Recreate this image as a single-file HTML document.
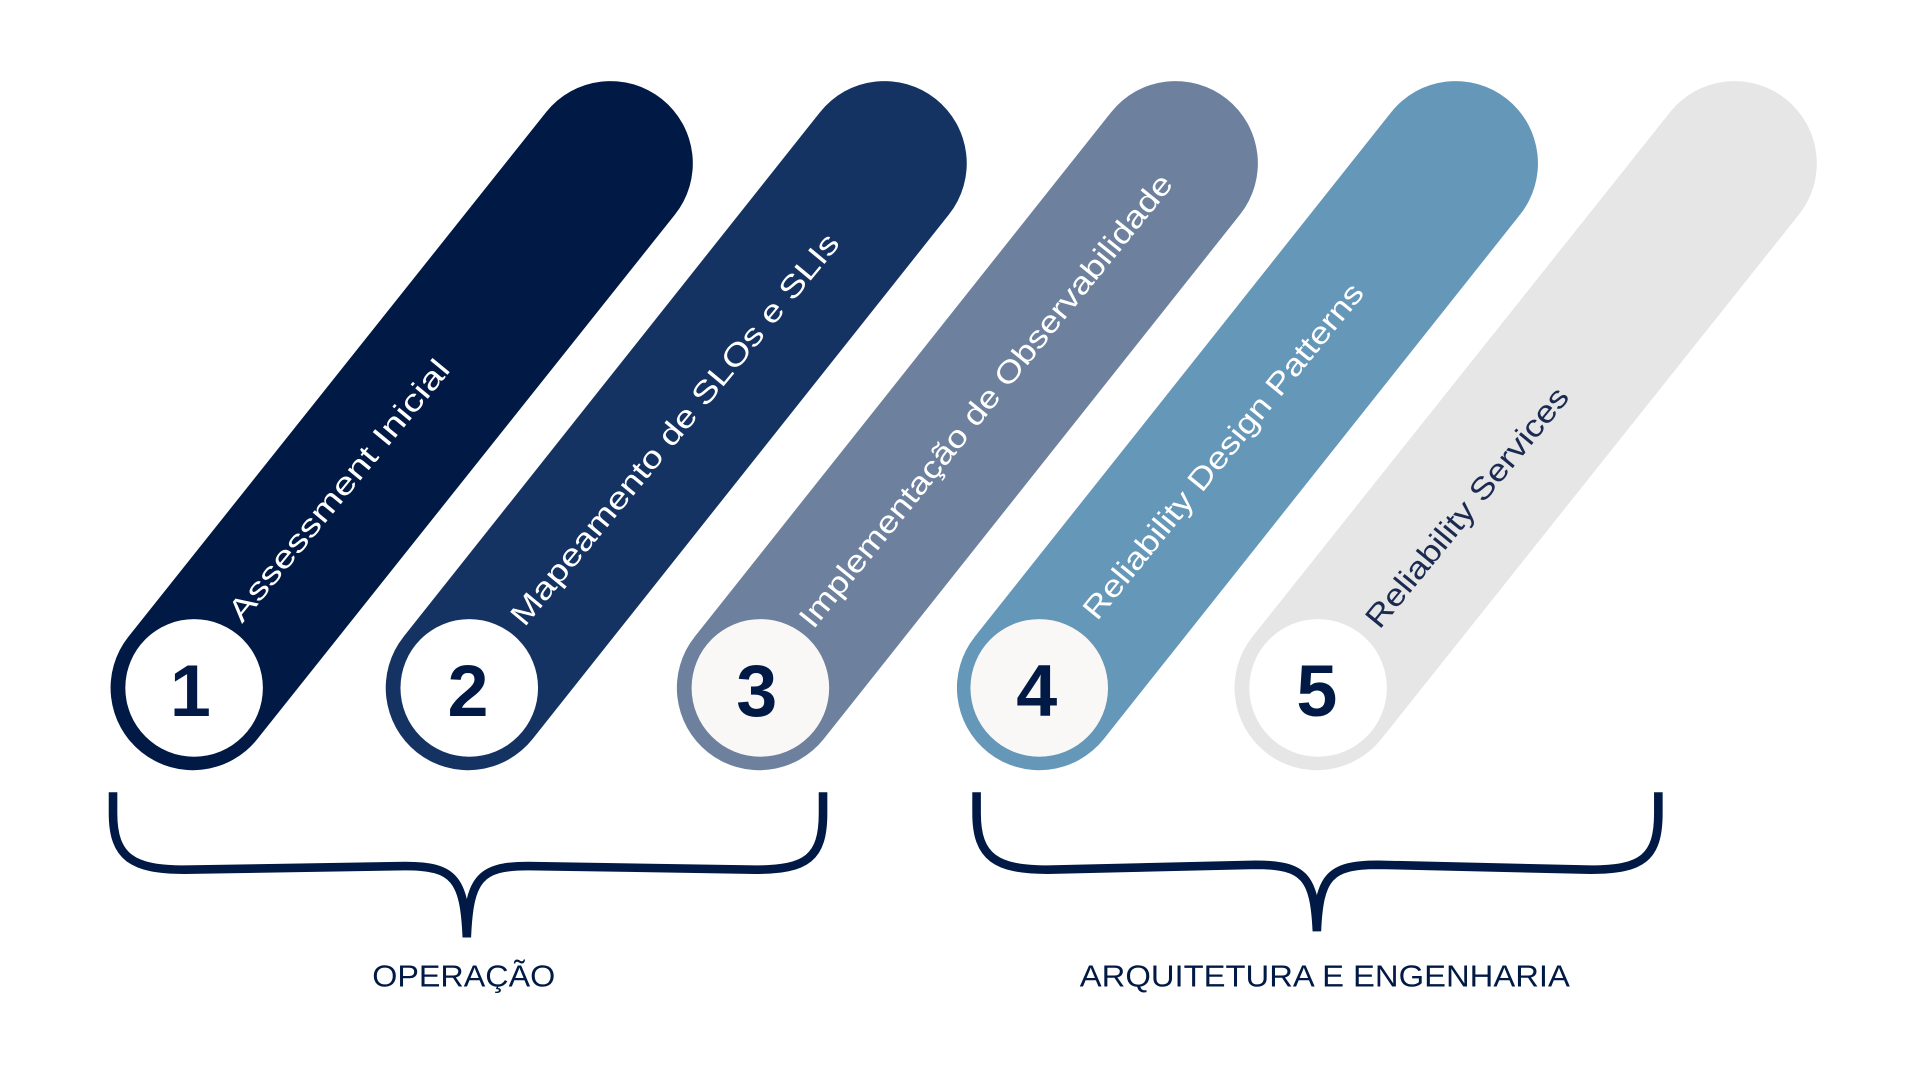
<!DOCTYPE html>
<html><head><meta charset="utf-8"><style>
html,body{margin:0;padding:0;background:#fff;width:1920px;height:1080px;overflow:hidden}
svg{display:block}
</style></head><body>
<svg width="1920" height="1080" viewBox="0 0 1563 879.2" xmlns="http://www.w3.org/2000/svg">
<g stroke-linecap="round" fill="none" stroke-width="134">
<line x1="157" y1="560" x2="497" y2="133" stroke="#001a45"/>
<line x1="381" y1="560" x2="720" y2="133" stroke="#143262"/>
<line x1="618" y1="560" x2="957" y2="133" stroke="#6d819e"/>
<line x1="846" y1="560" x2="1185" y2="133" stroke="#6597b9"/>
<line x1="1072" y1="560" x2="1412" y2="133" stroke="#e6e6e6"/>
</g>
<circle cx="158" cy="560" r="56" fill="#ffffff"/>
<circle cx="382" cy="560" r="56" fill="#ffffff"/>
<circle cx="619" cy="560" r="56" fill="#faf8f6"/>
<circle cx="846" cy="560" r="56" fill="#faf8f6"/>
<circle cx="1073" cy="560" r="56" fill="#ffffff"/>
<g font-family="Liberation Sans, sans-serif" font-weight="bold" font-size="60" fill="#001a45" text-anchor="middle">
<text x="155" y="583">1</text>
<text x="381" y="583">2</text>
<text x="616" y="583">3</text>
<text x="844" y="583">4</text>
<text x="1072" y="583">5</text>
</g>
<g font-family="Liberation Sans, sans-serif" font-size="25" fill="#ffffff">
<text transform="translate(197,508) rotate(-50.5)" textLength="268" lengthAdjust="spacingAndGlyphs">Assessment Inicial</text>
<text transform="translate(427,511) rotate(-50.5)" textLength="405" lengthAdjust="spacingAndGlyphs">Mapeamento de SLOs e SLIs</text>
<text transform="translate(662,513) rotate(-51)" textLength="467" lengthAdjust="spacingAndGlyphs">Implementação de Observabilidade</text>
<text transform="translate(893,506) rotate(-50.7)" textLength="345" lengthAdjust="spacingAndGlyphs">Reliability Design Patterns</text>
<text transform="translate(1123,513) rotate(-50.6)" textLength="245" lengthAdjust="spacingAndGlyphs" fill="#1a2a50">Reliability Services</text>
</g>
<g fill="none" stroke="#001a45" stroke-width="7">
<path d="M92,645 L92,662 C92,698 108,708 150,708 L330,705 C370,705 378,716 380,763 C382,716 390,705 430,705 L615,708 C657,708 670,698 670,662 L670,645"/>
<path d="M795,645 L795,662 C795,698 811,708 853,708 L1022,704 C1062,704 1070,714 1072,758 C1074,714 1082,704 1122,704 L1295,708 C1337,708 1350,698 1350,662 L1350,645"/>
</g>
<g font-family="Liberation Sans, sans-serif" font-size="25" fill="#001a45">
<text x="303" y="803" textLength="149" lengthAdjust="spacingAndGlyphs">OPERAÇÃO</text>
<text x="879" y="803" textLength="399" lengthAdjust="spacingAndGlyphs">ARQUITETURA E ENGENHARIA</text>
</g>
</svg>
</body></html>
